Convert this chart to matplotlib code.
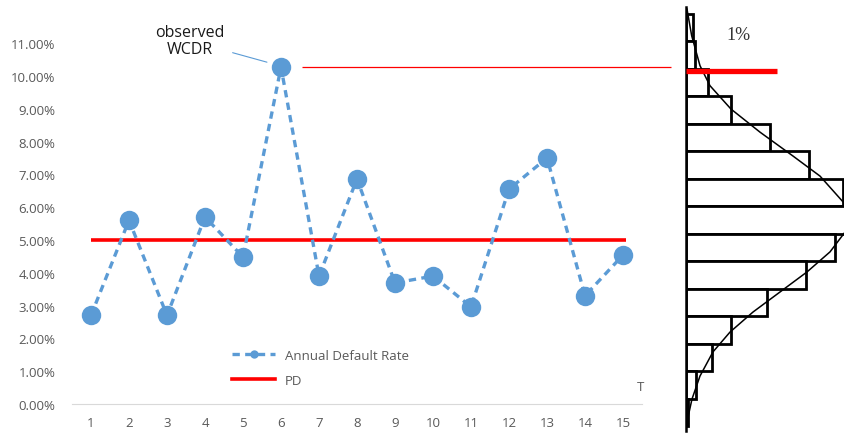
import numpy as np
import matplotlib
matplotlib.use('Agg')
import matplotlib.pyplot as plt
from matplotlib.lines import Line2D

# --- datos ---
anios = np.arange(1, 16)
tasa_default = [0.0270, 0.0560, 0.0270, 0.0570, 0.0448, 0.1027, 0.0390, 0.0686,
                0.0369, 0.0390, 0.0296, 0.0655, 0.0750, 0.0330, 0.0454]
pd_valor = 0.05
wcdr = 0.1027
yticks = np.arange(0, 0.1101, 0.01)

# histograma lateral (anchura de cada barra, de arriba abajo)
hist_anchos = [7, 9, 22, 45, 84, 123, 157, 159, 149, 120, 81, 45, 26, 10, 2]
# curva ajustada: (posicion en bins, anchura)
curva_pos = [-0.18, 0.79, 1.88, 2.61, 3.46, 4.30, 5.17, 5.90, 6.92, 7.94,
             8.66, 9.39, 10.12, 10.85, 11.58, 12.30, 13.18, 14.02, 14.85]
curva_ancho = [1, 5.7, 14, 24, 45, 74, 107, 134, 159, 159,
               144, 121, 94, 67, 44, 27, 14, 6, 1]
wcdr_bin = 2.06
wcdr_ancho = 91

AZUL = '#5B9BD5'
ROJO = '#FF0000'
GRIS = '#595959'

plt.rcParams['font.family'] = ['Open Sans', 'DejaVu Sans']

fig = plt.figure(figsize=(8.45, 4.35), dpi=100)

# ─── panel principal ─────────────────────────────────────────────────────────
ax = fig.add_axes([0.0852, 0.069, 0.6746, 0.9049])
ax.plot(anios, tasa_default, color=AZUL, linestyle=(0, (2.2, 1.6)), linewidth=2.4,
        marker='o', markersize=14, markeredgewidth=0, zorder=3)
ax.hlines(pd_valor, anios[0], anios[-1] + 0.08, color=ROJO, linewidth=2.6, zorder=2)
ax.hlines(wcdr, 6.56, 16.26, color=ROJO, linewidth=0.9, clip_on=False)

ax.set_xlim(0.5, 15.5)
ax.set_ylim(0, 0.12)
ax.set_xticks(anios)
ax.set_yticks(yticks)
ax.set_yticklabels([f'{v*100:.2f}%' for v in yticks])
ax.tick_params(axis='both', length=0, labelsize=9.5, colors=GRIS)
ax.tick_params(axis='y', pad=12)
ax.tick_params(axis='x', pad=9)
for s in ['top', 'right', 'left']:
    ax.spines[s].set_visible(False)
ax.spines['bottom'].set_color('#D9D9D9')

ax.annotate('observed\nWCDR', xy=(5.63, 0.1027 + 0.0015), xytext=(3.6, 0.1107),
            ha='center', va='center', fontsize=11.5, color='#1a1a1a',
            linespacing=1.1,
            arrowprops=dict(arrowstyle='-', color=AZUL, lw=0.8,
                            shrinkA=4, shrinkB=0))
ax.text(15.45, 0.0035, 'T', fontsize=9.5, color=GRIS, ha='center', va='bottom')

handles = [Line2D([], [], color=AZUL, linestyle=(0, (2.2, 1.6)), linewidth=2.4,
                  marker='o', markersize=6, markeredgewidth=0),
           Line2D([], [], color=ROJO, linewidth=2.6)]
ax.legend(handles, ['Annual Default Rate', 'PD'], loc='upper left',
          bbox_to_anchor=(220 / 845, 1 - 338 / 435), bbox_transform=fig.transFigure,
          frameon=False, fontsize=9.5, labelcolor=GRIS, handlelength=3.3,
          labelspacing=0.9, handletextpad=0.7)

# ─── histograma lateral ──────────────────────────────────────────────────────
axh = fig.add_axes([0.8118, 0.0069, 0.1882, 0.9747])
bins = np.arange(len(hist_anchos))
axh.barh(bins, hist_anchos, height=1, align='edge', color='white',
         edgecolor='black', linewidth=2.0)
axh.plot(curva_ancho, curva_pos, color='black', linewidth=1.1, clip_on=False)
axh.hlines(wcdr_bin, 0, wcdr_ancho, color=ROJO, linewidth=3.8, zorder=4)
axh.text(52, 0.75, '1%', fontsize=13, family=['Liberation Serif'], color='#333333',
         ha='center', va='center')
axh.set_xlim(0, 159)
axh.set_ylim(15.18, -0.255)
axh.set_xticks([])
axh.set_yticks([])
for s in ['top', 'right', 'bottom']:
    axh.spines[s].set_visible(False)
axh.spines['left'].set_linewidth(1.8)

fig.savefig('out.png', dpi=100, facecolor='white')
